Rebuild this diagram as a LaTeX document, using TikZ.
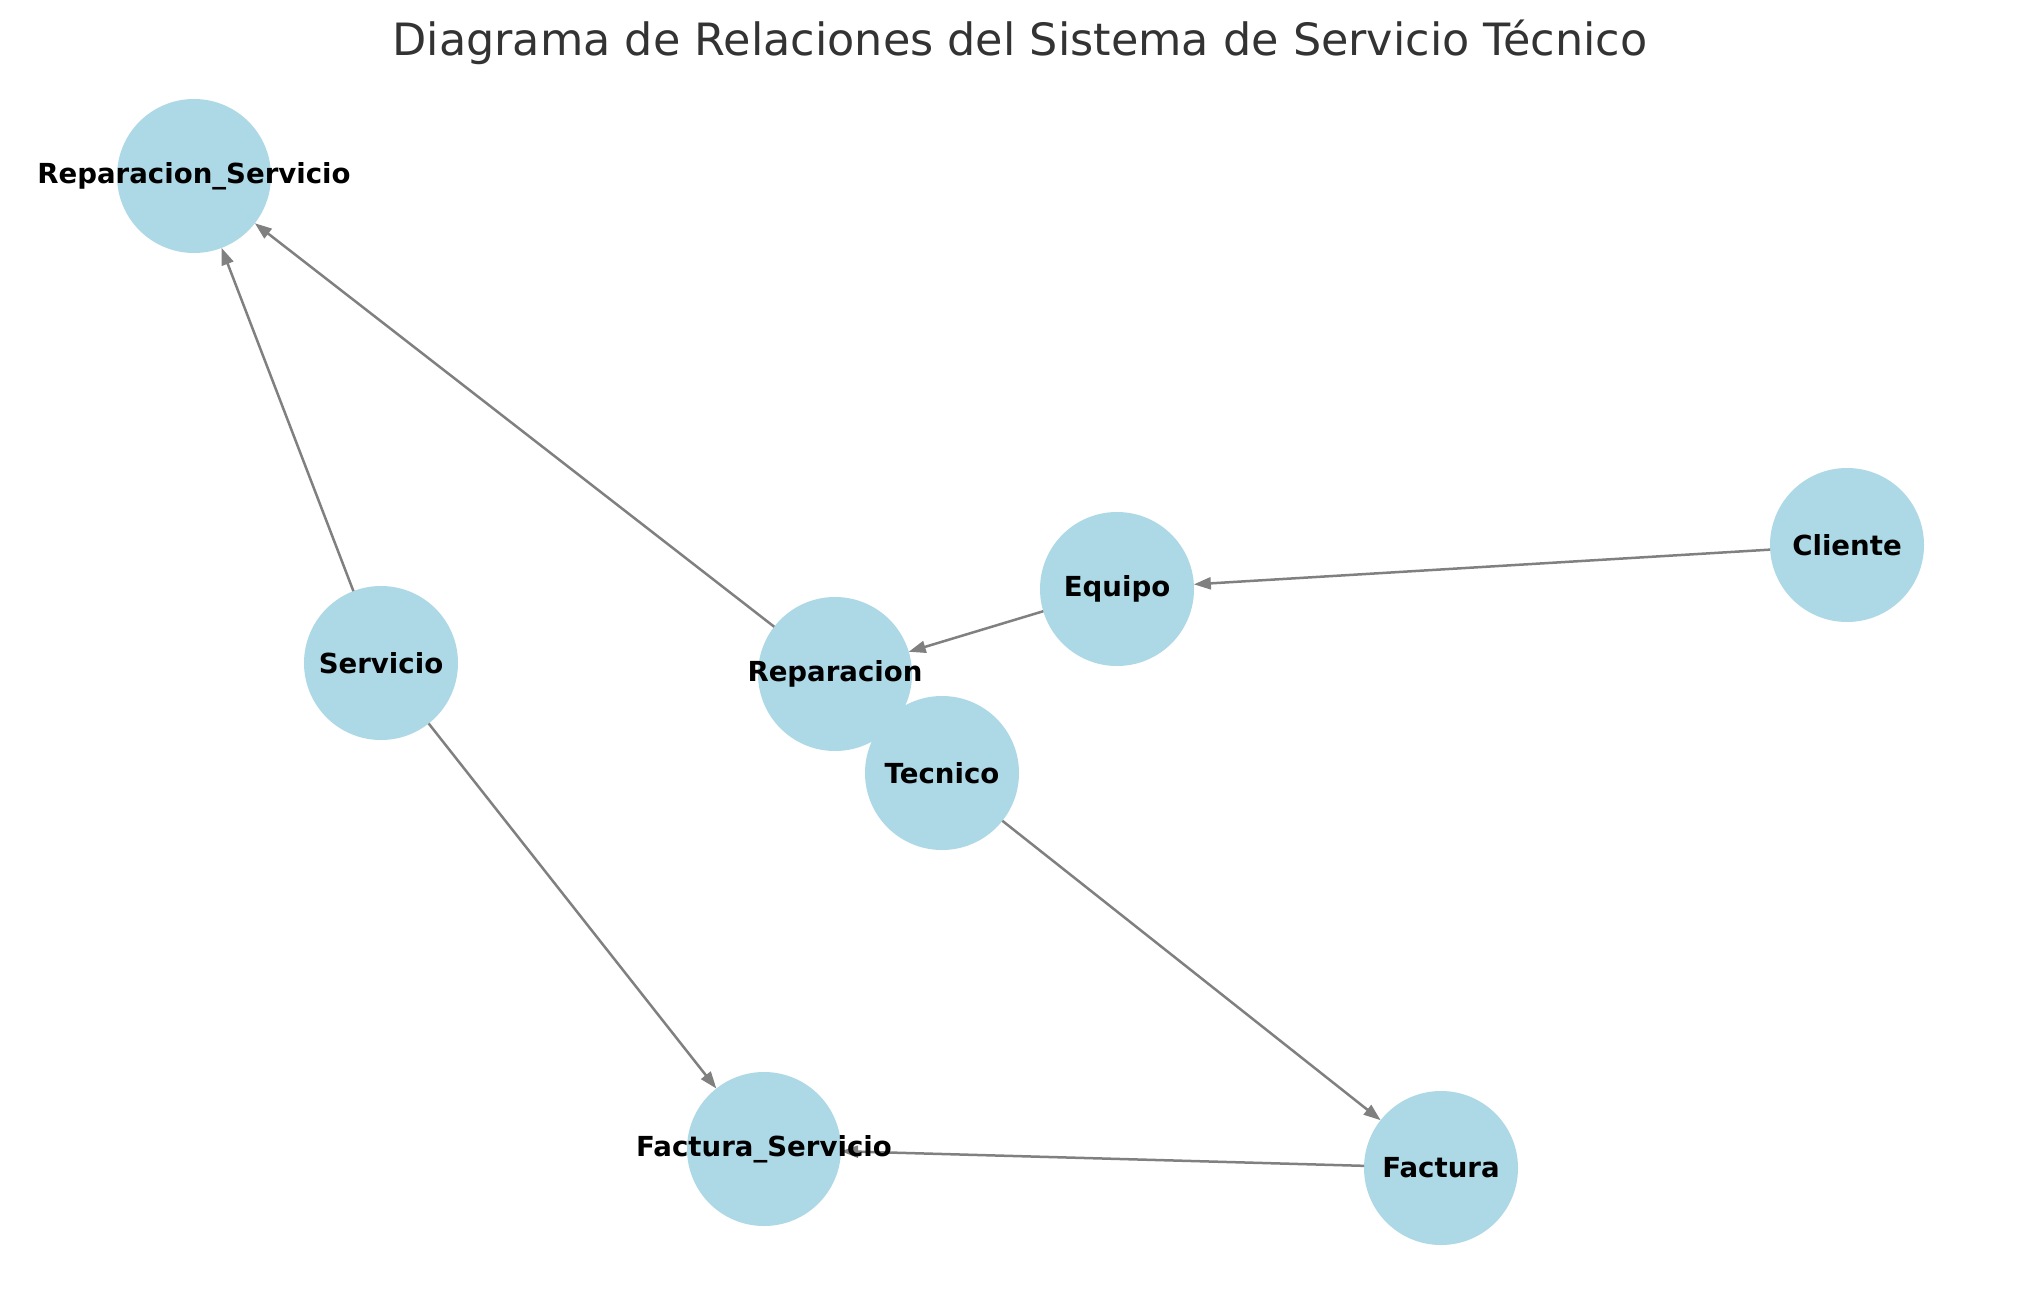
\documentclass[tikz,border=0pt]{standalone}
\usepackage{fontspec}
\setmainfont{DejaVu Sans}
\usetikzlibrary{arrows.meta}
\definecolor{nodeblue}{HTML}{ADD8E6}
\definecolor{edgegray}{HTML}{808080}
\definecolor{titlegray}{HTML}{333333}
\tikzset{
  vertex/.style={circle, fill=nodeblue, draw=none, minimum size=154pt, inner sep=0pt, outer sep=0pt},
  lbl/.style={font=\fontsize{27.6}{32}\selectfont\bfseries, text=black, inner sep=0pt},
  edge/.style={draw=edgegray, line width=2.5pt, -{Triangle[length=17pt,width=12pt]}},
}
\begin{document}
\begin{tikzpicture}[x=1pt,y=-1pt]
\useasboundingbox (0,0) rectangle (2039,1292);
\fill[white] (0,0) rectangle (2039,1292);
\node[font=\fontsize{44.5}{54}\selectfont, text=titlegray, anchor=base, inner sep=0pt] (title) at (1020,56) {Diagrama de Relaciones del Sistema de Servicio Técnico};
% nodes
\node[vertex] (rs) at (194,176) {};
\node[vertex] (serv) at (381,663) {};
\node[vertex] (rep) at (835,674) {};
\node[vertex] (tec) at (942,773) {};
\node[vertex] (eq) at (1117,589) {};
\node[vertex] (cli) at (1847,545) {};
\node[vertex] (fs) at (764,1149) {};
\node[vertex] (fac) at (1441,1168) {};
% edges
\draw[edge] (serv) -- (rs);
\draw[edge] (rep) -- (rs);
\draw[edge] (cli) -- (eq);
\draw[edge] (eq) -- (rep);
\draw[edge] (serv) -- (fs);
\draw[edge] (tec) -- (fac);
\draw[edge] (fac) -- (fs);
% labels
\node[lbl] (lrs) at (rs) {Reparacion\_Servicio};
\node[lbl] (lserv) at (serv) {Servicio};
\node[lbl] (lrep) at (rep) {Reparacion};
\node[lbl] (ltec) at (tec) {Tecnico};
\node[lbl] (leq) at (eq) {Equipo};
\node[lbl] (lcli) at (cli) {Cliente};
\node[lbl] (lfs) at (fs) {Factura\_Servicio};
\node[lbl] (lfac) at (fac) {Factura};
\end{tikzpicture}
\end{document}
